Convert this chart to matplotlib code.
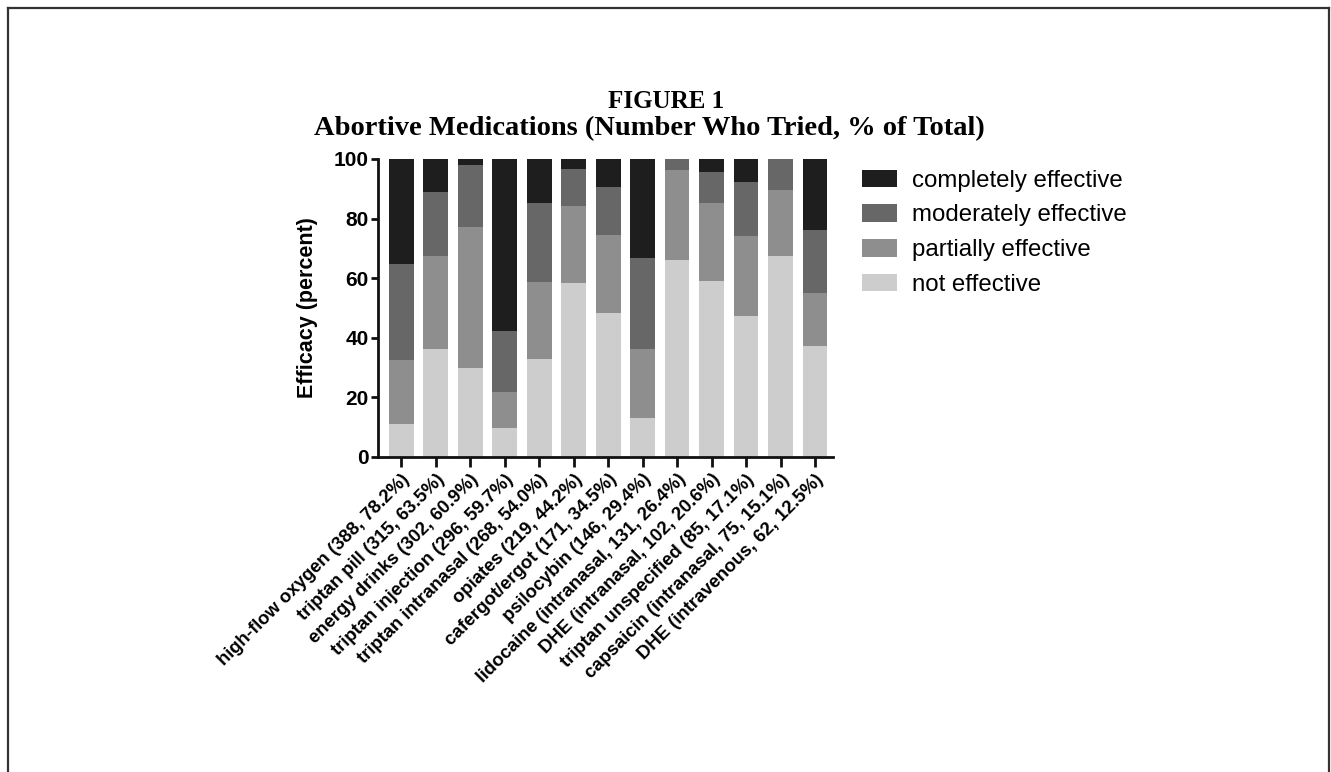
import numpy as np
import matplotlib.pyplot as plt
from matplotlib.lines import Line2D
from matplotlib.patches import Patch

# medications with (number who tried, % of total)
labels = ["high-flow oxygen (388, 78.2%)", "triptan pill (315, 63.5%)",
          "energy drinks (302, 60.9%)", "triptan injection (296, 59.7%)",
          "triptan intranasal (268, 54.0%)", "opiates (219, 44.2%)",
          "cafergot/ergot (171, 34.5%)", "psilocybin (146, 29.4%)",
          "lidocaine (intranasal, 131, 26.4%)", "DHE (intranasal, 102, 20.6%)",
          "triptan unspecified (85, 17.1%)", "capsaicin (intranasal, 75, 15.1%)",
          "DHE (intravenous, 62, 12.5%)"]

not_eff = [11.2, 36.2, 29.7, 9.8, 32.9, 58.3, 48.4, 13.2, 66.1, 59.1, 47.4, 67.3, 37.3]
partial = [21.3, 31.1, 47.4, 11.9, 25.7, 26.0, 26.1, 23.0, 30.3, 26.3, 26.8, 22.4, 17.6]
moderate = [32.2, 21.6, 21.0, 20.7, 26.7, 12.3, 16.1, 30.5, 3.6, 10.2, 18.1, 10.3, 21.3]
complete = [35.3, 11.1, 1.9, 57.6, 14.7, 3.4, 9.4, 33.3, 0.0, 4.4, 7.7, 0.0, 23.8]

series = [("not effective", not_eff, "#cdcdcd"),
          ("partially effective", partial, "#8e8e8e"),
          ("moderately effective", moderate, "#676767"),
          ("completely effective", complete, "#1e1e1e")]

SANS = ["Liberation Sans", "DejaVu Sans"]
SERIF = ["Liberation Serif", "DejaVu Serif"]

fig = plt.figure(figsize=(13.31, 7.72), dpi=100)

# outer frame (left, top, right; bottom cut off)
fx0, fx1, fy1 = 8 / 1331, 1329 / 1331, 1 - 8 / 772
for xs, ys in [([fx0, fx0], [0, fy1]), ([fx0, fx1], [fy1, fy1]), ([fx1, fx1], [fy1, 0])]:
    fig.add_artist(Line2D(xs, ys, transform=fig.transFigure, color="#333333", lw=1.6))

fig.text(666 / 1331, 1 - 101 / 772, "FIGURE 1", ha="center", va="center",
         fontsize=18, fontweight="bold", family=SERIF)
fig.text(649 / 1331, 1 - 129 / 772, "Abortive Medications (Number Who Tried, % of Total)",
         ha="center", va="center", fontsize=20.5, fontweight="bold", family=SERIF)

ax = fig.add_axes([378 / 1331, 1 - 457 / 772, (833 - 378) / 1331, (457 - 159) / 772])
x = np.arange(len(labels))
bottom = np.zeros(len(labels))
for name, vals, col in series:
    vals = np.array(vals)
    ax.bar(x, vals, bottom=bottom, width=0.72, color=col, edgecolor="none", label=name)
    bottom += vals

ax.set_xlim(-0.67, len(labels) - 1 + 0.52)
ax.set_ylim(0, 100)
ax.set_yticks([0, 20, 40, 60, 80, 100])
for s in ["top", "right"]:
    ax.spines[s].set_visible(False)
for s in ["left", "bottom"]:
    ax.spines[s].set_linewidth(2.0)
    ax.spines[s].set_color("#111111")
ax.tick_params(axis="y", width=2.0, length=5, pad=1.5, color="#111111")
ax.tick_params(axis="x", width=2.0, length=7, pad=3, color="#111111")
ax.set_xticks(x)
ax.set_xticklabels(labels, rotation=45, ha="right", va="top", rotation_mode="anchor",
                   fontsize=13.3, fontweight="bold", family=SANS)
for t in ax.get_yticklabels():
    t.set_fontsize(15)
    t.set_fontweight("bold")
    t.set_family(SANS)
ax.set_ylabel("Efficacy (percent)", fontsize=15.5, fontweight="bold", family=SANS)
ax.yaxis.set_label_coords(-0.132, 0.5)

order = ["completely effective", "moderately effective", "partially effective", "not effective"]
cols = {n: c for n, _, c in series}
leg_handles = [Patch(facecolor=cols[n], edgecolor="none") for n in order]
fig.legend(leg_handles, order, loc="upper left", bbox_to_anchor=(852 / 1331, 1 - 160 / 772),
           frameon=False, prop={"family": SANS, "size": 17.3}, handlelength=1.46,
           handleheight=0.75, labelspacing=0.52, handletextpad=0.62, borderaxespad=0)

fig.savefig("out.png", dpi=100, facecolor="white")
